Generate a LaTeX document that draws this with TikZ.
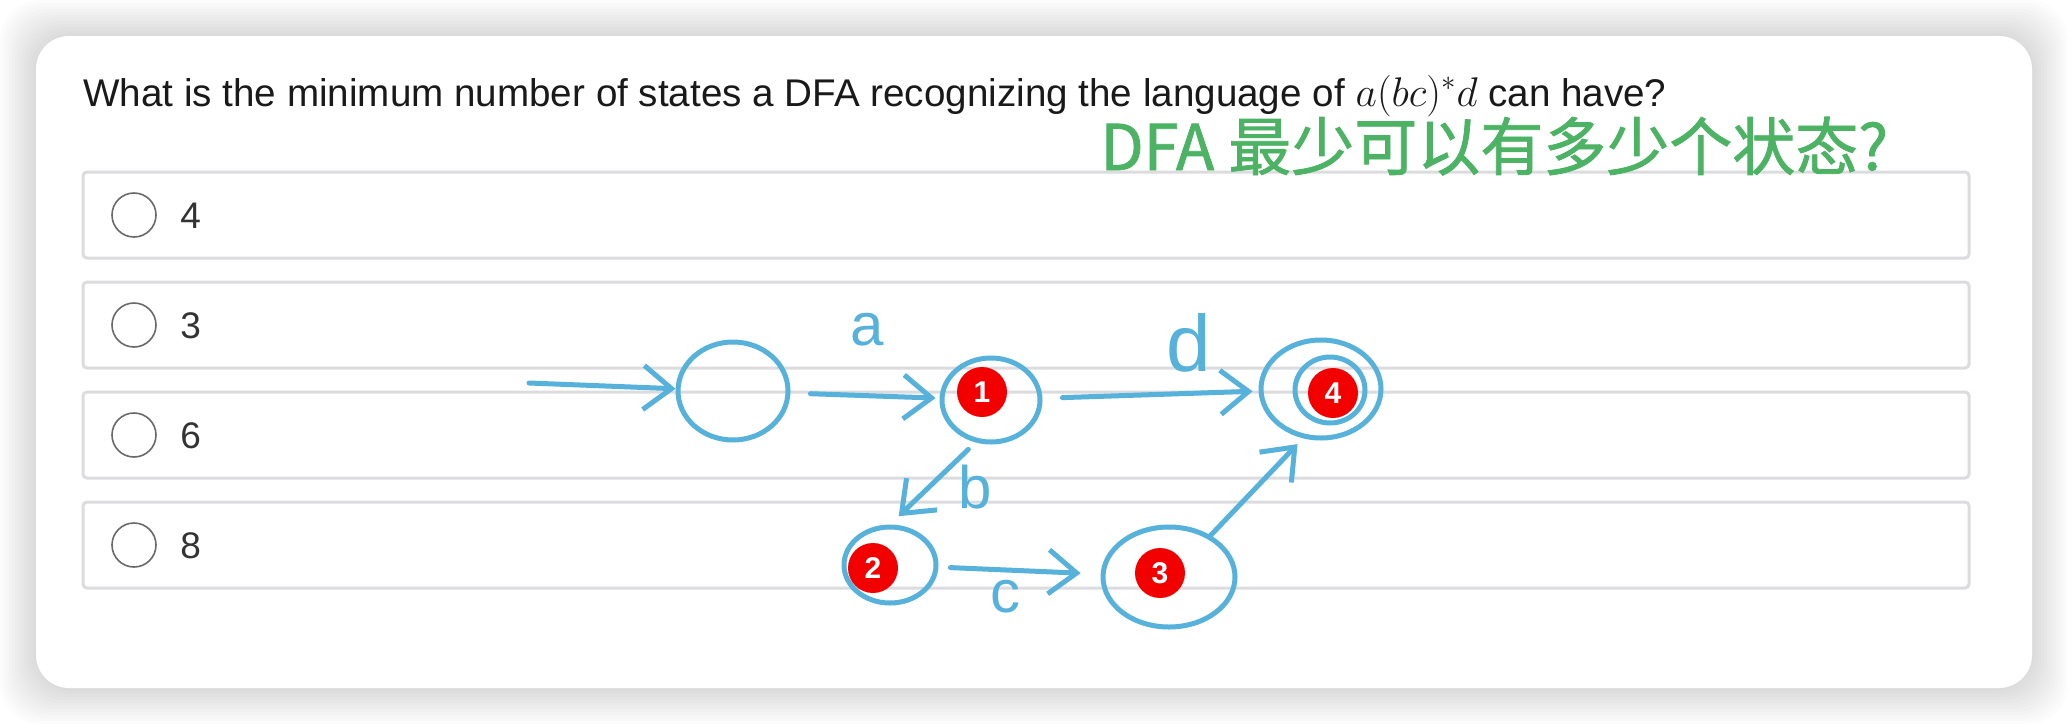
\documentclass[tikz,border=0pt]{standalone}
\usepackage[no-math]{fontspec}
\setmainfont{Liberation Sans}
\newfontfamily\cjkfont[FakeBold=1.2]{Noto Sans CJK SC}
\usepackage{xcolor}
\usetikzlibrary{shapes.geometric,arrows.meta,positioning,calc}

\definecolor{inkblue}{RGB}{86,178,218}
\definecolor{notegreen}{RGB}{76,178,100}
\definecolor{boxgray}{RGB}{220,220,223}
\definecolor{radiogray}{RGB}{105,105,105}
\definecolor{badgered}{RGB}{242,0,0}

\begin{document}
\begin{tikzpicture}[x=0.5pt,y=-0.5pt,
    state/.style={draw=inkblue, line width=2.5pt, ellipse, inner sep=0pt},
    badge/.style={circle, fill=badgered, text=white, inner sep=0pt, minimum size=25pt,
        font=\bfseries\fontsize{15}{15}\selectfont},
    hand/.style={draw=inkblue, line width=2.5pt, line cap=round, ->},
    hlabel/.style={text=inkblue, inner sep=0pt, font=\fontsize{30}{30}\selectfont},
    option/.style={draw=boxgray, line width=1.5pt, rounded corners=2pt},
    radio/.style={circle, draw=radiogray, line width=0.8pt, minimum size=22pt, inner sep=0pt},
    >={Straight Barb[length=14pt,width=22pt]}]
        \useasboundingbox (0,0) rectangle (2068,724);

        % Card and shadow
        \foreach \e in {3,6,...,36}
            \fill[black, opacity=0.011, rounded corners=20pt] (36-\e,36-\e) rectangle (2032+\e,688+\e);
        \fill[white, rounded corners=16.5pt] (36,36) rectangle (2032,688);

        % Question
        \node[anchor=base west, inner sep=0pt, text=black!90, font=\fontsize{19.3}{22}\selectfont] (question) at (83,106)
            {What is the minimum number of states a DFA recognizing the language of {\fontsize{22}{22}\selectfont$a(bc)^*d$} can have?};

        % Answer options
        \foreach \y/\n [count=\i] in {215/4, 325/3, 435/6, 545/8}{
            \draw[option] (83,\y-43) rectangle (1969,\y+43);
            \node[radio] (radio\i) at (134,\y) {};
            \node[anchor=base west, inner sep=0pt, text=black!80, font=\fontsize{18.5}{20}\selectfont] (answer\i) at (180,\y+13) {\n};
        }

        % Note over the first option
        \node[anchor=base west, inner sep=0pt, text=notegreen, font=\cjkfont\fontsize{31.5}{32}\selectfont] (note) at (1100,170)
            {DFA 最少可以有多少个状态?};

        % DFA sketch
        \node[state, minimum width=55pt, minimum height=49pt] (q0) at (733,391) {};
        \node[state, minimum width=49pt, minimum height=42pt] (q1) at (991,400) {};
        \node[state, minimum width=46pt, minimum height=38pt] (q2) at (890,565) {};
        \node[state, minimum width=66pt, minimum height=50pt] (q3) at (1169,577) {};
        \node[state, minimum width=60pt, minimum height=49pt] (q4) at (1321,389) {};
        \node[state, minimum width=35pt, minimum height=33pt] (q4in) at (1330,390) {};

        \node[badge] (badge1) at (982,392) {1};
        \node[badge] (badge2) at (873,568) {2};
        \node[badge] (badge3) at (1160,573) {3};
        \node[badge] (badge4) at (1333,393) {4};

        \coordinate (start) at (529,383);
        \draw[hand] (start) -- (q0);
        \draw[hand, shorten <=10pt, shorten >=2pt] (q0) -- (q1);
        \draw[hand, shorten <=10pt, shorten >=3pt] (q1) -- (q4);
        \draw[hand, shorten <=5pt, shorten >=6pt] (q1.250) -- (q2.north);
        \draw[hand, shorten <=6pt, shorten >=10pt] (q2) -- (q3);
        \draw[hand, shorten >=4pt] (q3.45) -- (q4.250);

        \node[hlabel] (la) at (867,330) {a};
        \node[hlabel, font=\fontsize{40}{40}\selectfont] (ld) at (1189,343) {d};
        \node[hlabel] (lb) at (975,487) {b};
        \node[hlabel] (lc) at (1005,597) {c};
\end{tikzpicture}
\end{document}
